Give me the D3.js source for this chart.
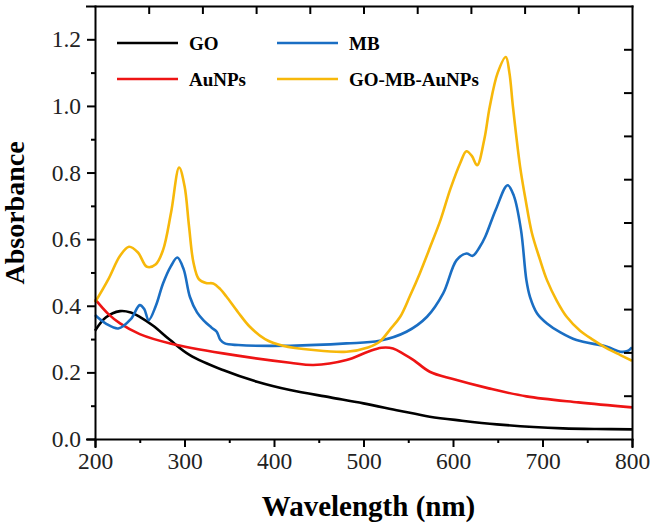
<!DOCTYPE html>
<html lang="en">

<head>
    <meta charset="UTF-8">
    <title>UV-Vis absorbance</title>
    <style>
        body {
            margin: 0;
            background: #fff;
        }

        .line {
            fill: none;
            stroke-width: 2.6px;
            stroke-linejoin: round;
        }

        .axis path,
        .axis line {
            stroke: #000;
            stroke-width: 2px;
        }
    </style>
    <script src="https://d3js.org/d3.v7.min.js"></script>
</head>

<body>
    <div id="chart"></div>

    <script>
        // curves (wavelength nm / absorbance)
        const goX = [200, 212, 228, 240, 250, 265, 284, 306, 343, 381, 418, 463, 500, 540, 574, 610, 649, 690, 723, 760, 800];
        const goY = [0.325, 0.365, 0.384, 0.38, 0.367, 0.34, 0.297, 0.252, 0.207, 0.172, 0.147, 0.125, 0.107, 0.085, 0.067, 0.055, 0.044, 0.036, 0.032, 0.030, 0.029];

        const auX = [200, 215, 228, 250, 284, 343, 418, 444, 481, 505, 520, 533, 545, 556, 574, 600, 640, 682, 740, 800];
        const auY = [0.42, 0.375, 0.347, 0.315, 0.287, 0.257, 0.229, 0.222, 0.237, 0.262, 0.274, 0.272, 0.255, 0.237, 0.202, 0.18, 0.152, 0.128, 0.11, 0.095];

        const mbX = [200, 213, 226, 240, 250, 255, 260, 268, 276, 285, 292, 299, 306, 314, 321, 330, 336, 340, 345, 360, 418, 481, 518, 548, 571, 589, 604, 615, 622, 630, 636, 648, 661, 668, 676, 682, 686, 694, 705, 720, 738, 772, 787, 795, 800];
        const mbY = [0.372, 0.345, 0.332, 0.36, 0.402, 0.39, 0.357, 0.40, 0.467, 0.52, 0.545, 0.51, 0.427, 0.38, 0.357, 0.335, 0.322, 0.298, 0.287, 0.282, 0.28, 0.287, 0.295, 0.322, 0.367, 0.437, 0.537, 0.557, 0.55, 0.577, 0.607, 0.69, 0.762, 0.73, 0.627, 0.477, 0.427, 0.377, 0.347, 0.32, 0.297, 0.277, 0.262, 0.264, 0.275];

        const mixX = [200, 215, 228, 238, 248, 258, 268, 276, 285, 294, 300, 305, 310, 316, 324, 332, 340, 347, 360, 373, 390, 410, 444, 481, 505, 518, 530, 541, 552, 563, 575, 586, 597, 608, 615, 621, 627, 635, 641, 650, 659, 663, 667, 675, 681, 688, 697, 705, 716, 727, 742, 757, 772, 787, 800];
        const mixY = [0.41, 0.48, 0.55, 0.577, 0.56, 0.517, 0.525, 0.567, 0.68, 0.815, 0.76, 0.64, 0.53, 0.48, 0.468, 0.467, 0.45, 0.427, 0.38, 0.337, 0.30, 0.28, 0.267, 0.262, 0.275, 0.292, 0.33, 0.367, 0.43, 0.498, 0.58, 0.657, 0.75, 0.828, 0.864, 0.85, 0.822, 0.90, 0.997, 1.10, 1.147, 1.10, 0.997, 0.817, 0.72, 0.62, 0.54, 0.477, 0.415, 0.367, 0.325, 0.297, 0.272, 0.252, 0.235];

        const names = ["GO", "AuNPs", "MB", "GO-MB-AuNPs"];
        const colors = ["#000000", "#ee1414", "#1a6ec3", "#f7b80a"];

        const xTicks = [200, 300, 400, 500, 600, 700, 800];
        const yTicks = [0, 0.2, 0.4, 0.6, 0.8, 1.0, 1.2];

        const series = [
            { x: goX, y: goY },
            { x: auX, y: auY },
            { x: mbX, y: mbY },
            { x: mixX, y: mixY }
        ];

        const FONT = "'Liberation Serif', 'Times New Roman', serif";

        // frame
        var margin = { top: 6, right: 24, bottom: 89, left: 95 },
            width = 656 - margin.left - margin.right,
            height = 528 - margin.top - margin.bottom;

        var x_scale = d3.scaleLinear().domain([200, 800]).range([0, width]);
        var y_scale = d3.scaleLinear().domain([0, 1.3]).range([height, 0]);

        var value_line = d3.line()
            .x((d) => x_scale(d[0]))
            .y((d) => y_scale(d[1]))
            .curve(d3.curveCatmullRom.alpha(0.5));

        const svg = d3.select("#chart")
            .append("svg")
            .attr("width", 656)
            .attr("height", 528)
            .append("g")
            .attr("transform", "translate(" + margin.left + "," + margin.top + ")");

        // curves
        series.forEach((s, i) => {
            svg.append("path")
                .datum(s.x.map((v, k) => [v, s.y[k]]))
                .attr("class", "line")
                .attr("stroke", colors[i])
                .attr("d", value_line);
        });

        // bottom axis, major + minor ticks outward
        svg.append("g")
            .attr("class", "axis")
            .attr("transform", "translate(0," + height + ")")
            .call(d3.axisBottom(x_scale).tickValues(xTicks).tickSize(8).tickPadding(5).tickFormat(d3.format("d")));
        svg.append("g")
            .attr("class", "axis")
            .attr("transform", "translate(0," + height + ")")
            .call(d3.axisBottom(x_scale).tickValues(d3.range(250, 800, 100)).tickSize(4).tickFormat(""))
            .select(".domain").remove();

        // left axis
        svg.append("g")
            .attr("class", "axis")
            .call(d3.axisLeft(y_scale).tickValues(yTicks).tickSize(8).tickPadding(6).tickFormat(d3.format(".1f")));
        svg.append("g")
            .attr("class", "axis")
            .call(d3.axisLeft(y_scale).tickValues(d3.range(0.1, 1.3, 0.2)).tickSize(4).tickFormat(""))
            .select(".domain").remove();

        // top and right: inward ticks, no labels
        svg.append("g")
            .attr("class", "axis")
            .call(d3.axisTop(x_scale).tickValues(d3.range(260, 800, 60)).tickSizeInner(-8).tickSizeOuter(0).tickFormat(""));
        svg.append("g")
            .attr("class", "axis")
            .attr("transform", "translate(" + width + ",0)")
            .call(d3.axisRight(y_scale).tickValues(d3.range(1, 10).map((k) => k * 0.13)).tickSizeInner(-8).tickSizeOuter(0).tickFormat(""));

        svg.selectAll(".axis .domain").attr("stroke-linecap", "square");
        svg.selectAll(".axis text")
            .style("font-family", FONT)
            .style("font-size", "23.5px")
            .style("fill", "#222");

        // axis titles
        svg.append("text")
            .attr("x", x_scale(500) + 5)
            .attr("y", height + 77)
            .attr("text-anchor", "middle")
            .style("font-family", FONT)
            .style("font-weight", "bold")
            .style("font-size", "29px")
            .text("Wavelength (nm)");

        svg.append("text")
            .attr("transform", "translate(" + (24 - margin.left) + "," + (213 - margin.top) + ") rotate(-90)")
            .attr("text-anchor", "middle")
            .style("font-family", FONT)
            .style("font-weight", "bold")
            .style("font-size", "28px")
            .text("Absorbance");

        // legend, two columns
        const legend = svg.append("g");
        names.forEach((n, i) => {
            const col = i < 2 ? 0 : 1,
                row = i % 2;
            const lx = 22 + col * 160,
                ly = 37 + row * 36;
            legend.append("line")
                .attr("x1", lx).attr("x2", lx + 61)
                .attr("y1", ly).attr("y2", ly)
                .attr("stroke", colors[i])
                .attr("stroke-width", 2.6);
            legend.append("text")
                .attr("x", lx + 72)
                .attr("y", ly + 7)
                .style("font-family", FONT)
                .style("font-weight", "bold")
                .style("font-size", "19px")
                .text(n);
        });
    </script>
</body>

</html>
